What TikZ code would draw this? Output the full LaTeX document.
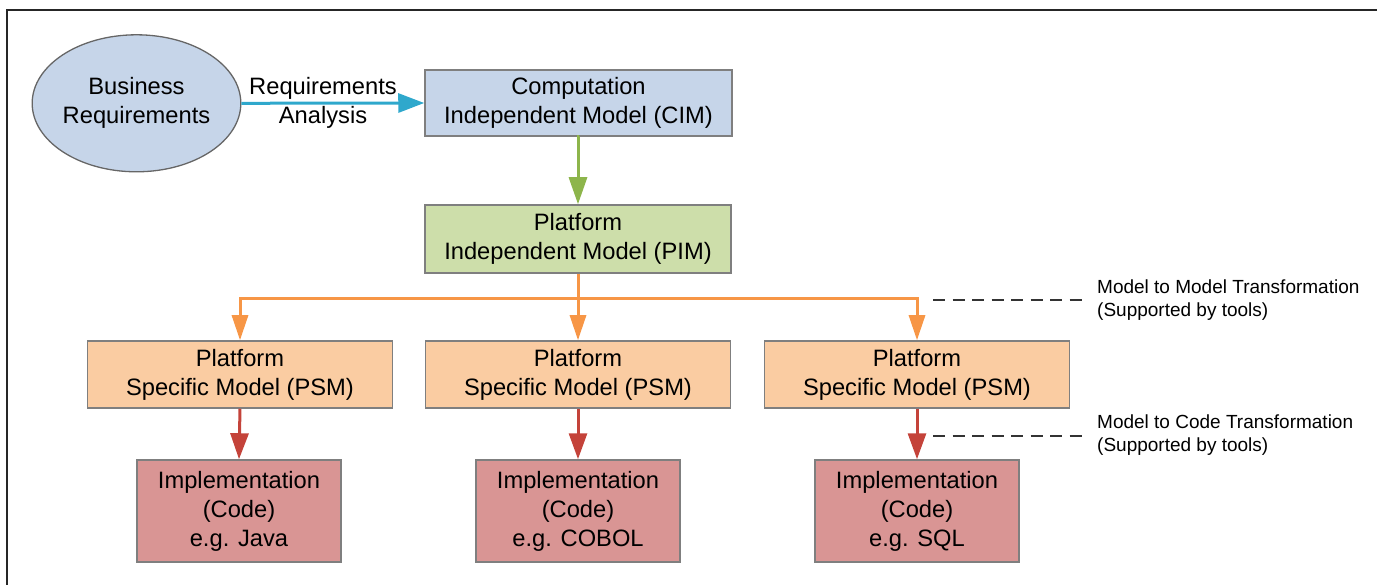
\documentclass[tikz,border=0pt]{standalone}
\usepackage{fontspec}
\setmainfont{Liberation Sans}
\usetikzlibrary{arrows.meta,shapes.geometric}

\definecolor{cimfill}{HTML}{C6D5E9}
\definecolor{pimfill}{HTML}{CDDEAA}
\definecolor{psmfill}{HTML}{FACCA2}
\definecolor{implfill}{HTML}{D99594}
\definecolor{boxline}{HTML}{7F7F7F}
\definecolor{bluearr}{HTML}{2FA8CC}
\definecolor{greenarr}{HTML}{8DB54B}
\definecolor{orangearr}{HTML}{F79646}
\definecolor{redarr}{HTML}{C4433A}
\definecolor{dashline}{HTML}{333333}

\tikzset{
  mainfont/.style={font=\fontsize{23.7}{29}\selectfont},
  notefont/.style={font=\fontsize{19}{23}\selectfont},
  modelbox/.style={rectangle, draw=boxline, line width=1.5pt, inner sep=0pt,
    align=center, mainfont},
  cimbox/.style={modelbox, fill=cimfill, minimum width=307pt, minimum height=66pt},
  pimbox/.style={modelbox, fill=pimfill, minimum width=306pt, minimum height=68pt},
  psmbox/.style={modelbox, fill=psmfill, minimum width=305pt, minimum height=67pt},
  implbox/.style={modelbox, fill=implfill, minimum width=204pt, minimum height=102pt},
  flow/.style={line width=3pt, -{Triangle[length=26pt,width=18pt]}},
  orangeflow/.style={line width=3pt, draw=orangearr,
    -{Triangle[length=25pt,width=16pt,fill=orangearr]}},
  guide/.style={draw=dashline, line width=2pt, dash pattern=on 12pt off 7.5pt},
  note/.style={anchor=west, align=left, inner sep=0pt, notefont}
}

\begin{document}
\begin{tikzpicture}[x=1pt,y=-1pt]
  \useasboundingbox (0,0) rectangle (1377,585);

  % frame
  \coordinate (fbl) at (7,585);
  \coordinate (ftl) at (7,10);
  \coordinate (ftr) at (1377,10);
  \draw[line width=1.6pt, draw=black!85] (fbl) -- (ftl) -- (ftr);

  % requirements and models
  \node[ellipse, draw=black!60, line width=1.3pt, fill=cimfill, inner sep=0pt,
        minimum width=203pt, minimum height=137pt, align=center, mainfont]
        (biz) at (136.5,103.3) {Business\\Requirements};
  \node[cimbox] (cim) at (578.5,103) {Computation\\Independent Model (CIM)};
  \node[pimbox] (pim) at (578,239) {Platform\\Independent Model (PIM)};

  \node[psmbox] (psm1) at (240,374.5) {Platform\\Specific Model (PSM)};
  \node[psmbox] (psm2) at (578,374.5) {Platform\\Specific Model (PSM)};
  \node[psmbox] (psm3) at (917,374.5) {Platform\\Specific Model (PSM)};

  \node[implbox] (impl1) at (239,511) {Implementation\\(Code)\\e.g. Java};
  \node[implbox] (impl2) at (578,511) {Implementation\\(Code)\\e.g. COBOL};
  \node[implbox] (impl3) at (917,511) {Implementation\\(Code)\\e.g. SQL};

  % requirements analysis
  \draw[flow, draw=bluearr, -{Triangle[length=26pt,width=19pt,fill=bluearr]}]
    (biz.east) -- (cim.west);
  \node[align=center, inner sep=0pt, mainfont] (ra) at (323,102.5)
    {Requirements\\Analysis};

  % CIM to PIM
  \draw[flow, draw=greenarr, -{Triangle[length=27pt,width=18pt,fill=greenarr]}]
    (cim.south) -- (pim.south |- cim.south) -- (pim.north);

  % PIM to the PSMs
  \coordinate (bus) at (578,299);
  \draw[orangeflow] (pim.south) -- (psm2.north);
  \draw[orangeflow] (bus) -| (psm1.north);
  \draw[orangeflow] (bus) -| (psm3.north);

  % PSMs to code
  \draw[flow, draw=redarr, -{Triangle[length=26pt,width=18pt,fill=redarr]}]
    (psm1.south) -- (impl1.north);
  \draw[flow, draw=redarr, -{Triangle[length=26pt,width=18pt,fill=redarr]}]
    (psm2.south) -- (impl2.north);
  \draw[flow, draw=redarr, -{Triangle[length=26pt,width=18pt,fill=redarr]}]
    (psm3.south) -- (impl3.north);

  % transformation notes
  \coordinate (m2ma) at (933,300);
  \coordinate (m2mb) at (1088,300);
  \draw[guide] (m2ma) -- (m2mb);
  \node[note] (m2m) at (1097,300.5)
    {Model to Model Transformation\\(Supported by tools)};

  \coordinate (m2ca) at (933,436);
  \coordinate (m2cb) at (1088,436);
  \draw[guide] (m2ca) -- (m2cb);
  \node[note] (m2c) at (1097,435.5)
    {Model to Code Transformation\\(Supported by tools)};
\end{tikzpicture}
\end{document}
